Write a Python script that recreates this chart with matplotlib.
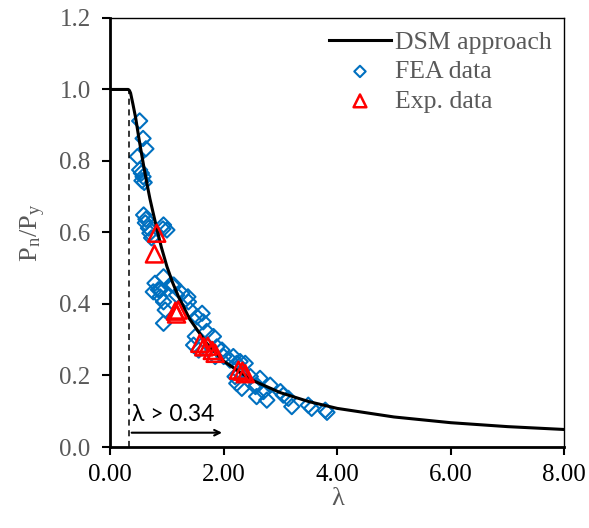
import numpy as np
import matplotlib
matplotlib.use('Agg')
import matplotlib.pyplot as plt

plt.rcParams['font.family'] = ['Liberation Serif', 'DejaVu Serif']
plt.rcParams['mathtext.fontset'] = 'stix'

# DSM curve
dsm_lam = [0.0, 0.32, 0.34, 0.36, 0.40, 0.45, 0.50, 0.55, 0.60, 0.65, 0.70, 0.75, 0.82, 0.90,
           1.0, 1.1, 1.2, 1.4, 1.7, 2.0, 2.5, 3.0, 3.5, 4.0, 5.0, 6.0, 7.0, 8.0]
dsm_p = [1.0, 1.0, 0.997, 0.99, 0.96, 0.92, 0.87, 0.823, 0.778, 0.735, 0.695, 0.66, 0.612, 0.56,
         0.505, 0.46, 0.422, 0.358, 0.29, 0.24, 0.187, 0.152, 0.127, 0.108, 0.084, 0.068, 0.057, 0.049]

# FEA data
fea_lam = [0.52, 0.58, 0.63, 0.48, 0.52, 0.55, 0.58, 0.60, 0.56,
           0.59, 0.63, 0.62, 0.675, 0.70, 0.94, 1.0, 0.73, 0.93,
           0.79, 0.76, 0.88, 1.12, 0.94, 1.17, 0.94, 0.97, 0.94, 1.26, 0.85, 0.88,
           1.38, 1.41, 1.53, 1.62, 1.64, 1.70, 1.50, 1.47, 1.56, 1.82, 1.88, 1.97,
           2.11, 2.23, 2.00, 1.85, 2.20, 2.29, 2.47, 2.58, 2.64, 2.82, 2.70, 3.00,
           2.17, 2.29, 2.38, 2.23, 2.32, 2.56, 2.58, 2.76, 3.05, 3.20, 3.14,
           3.49, 3.55, 3.79, 3.82, 1.09, 1.37]
fea_p = [0.912, 0.863, 0.834, 0.812, 0.775, 0.766, 0.756, 0.740, 0.745,
         0.649, 0.637, 0.627, 0.612, 0.598, 0.621, 0.607, 0.585, 0.610,
         0.458, 0.434, 0.439, 0.453, 0.476, 0.425, 0.406, 0.383, 0.346, 0.430, 0.440, 0.420,
         0.406, 0.383, 0.364, 0.374, 0.350, 0.323, 0.309, 0.285, 0.271, 0.309, 0.280, 0.271,
         0.243, 0.234, 0.253, 0.253, 0.197, 0.206, 0.197, 0.173, 0.192, 0.173, 0.155, 0.155,
         0.253, 0.239, 0.234, 0.178, 0.164, 0.169, 0.141, 0.131, 0.145, 0.113, 0.136,
         0.117, 0.108, 0.103, 0.097, 0.453, 0.420]

# Experimental data
exp_lam = [0.82, 0.78, 1.15, 1.20, 1.17, 1.58, 1.65, 1.72, 1.80, 1.85, 2.26, 2.38, 2.33]
exp_p = [0.598, 0.540, 0.380, 0.383, 0.372, 0.290, 0.280, 0.282, 0.270, 0.262, 0.215, 0.205, 0.212]

fig = plt.figure(figsize=(5.89, 5.28), dpi=100)
ax = fig.add_axes([0.187, 0.1534, 0.771, 0.8126])

ax.plot(dsm_lam, dsm_p, color='black', linewidth=2.2, label='DSM approach', zorder=3)
ax.scatter(fea_lam, fea_p, marker='D', s=60, facecolors='none', edgecolors='#0070C0',
           linewidths=1.5, label='FEA data', zorder=2)
ax.scatter(exp_lam, exp_p, marker='^', s=150, facecolors='none', edgecolors='#FF0000',
           linewidths=1.8, label='Exp. data', zorder=4)

ax.plot([0.34, 0.34], [0.0, 1.0], color='black', linestyle=(0, (4, 3)), linewidth=1.1)
ax.annotate('', xy=(2.02, 0.04), xytext=(0.33, 0.04),
            arrowprops=dict(arrowstyle='->', color='black', linewidth=1.5))
ax.text(0.38, 0.072, 'λ > 0.34', fontsize=16.5, family=['Lato', 'DejaVu Sans'], color='black')

ax.set_xlim(0, 8)
ax.set_ylim(0, 1.2)
ax.set_xticks([0, 2, 4, 6, 8])
ax.set_xticklabels(['0.00', '2.00', '4.00', '6.00', '8.00'])
ax.set_yticks(np.arange(0, 1.21, 0.2))
ax.set_yticklabels(['0.0', '0.2', '0.4', '0.6', '0.8', '1.0', '1.2'])
ax.tick_params(axis='y', direction='out', length=6, width=1.5, labelsize=18, labelcolor='#595959', pad=8)
ax.tick_params(axis='x', direction='out', length=6, width=1.5, labelsize=18, labelcolor='black', pad=6)

for side in ['left', 'bottom']:
    ax.spines[side].set_linewidth(2.0)
for side in ['top', 'right']:
    ax.spines[side].set_linewidth(1.0)

ax.set_xlabel('λ', fontsize=19, color='#595959', labelpad=2)
ax.set_ylabel(r'P$_\mathregular{n}$/P$_\mathregular{y}$', fontsize=19, color='#595959', labelpad=8)

leg = ax.legend(loc='upper right', frameon=False, fontsize=18.5, handlelength=2.4,
                handletextpad=0.15, labelspacing=0.25, borderaxespad=0.1, scatterpoints=1,
                markerscale=0.75)
for t in leg.get_texts():
    t.set_color('#595959')

fig.savefig('out.png', dpi=100)
